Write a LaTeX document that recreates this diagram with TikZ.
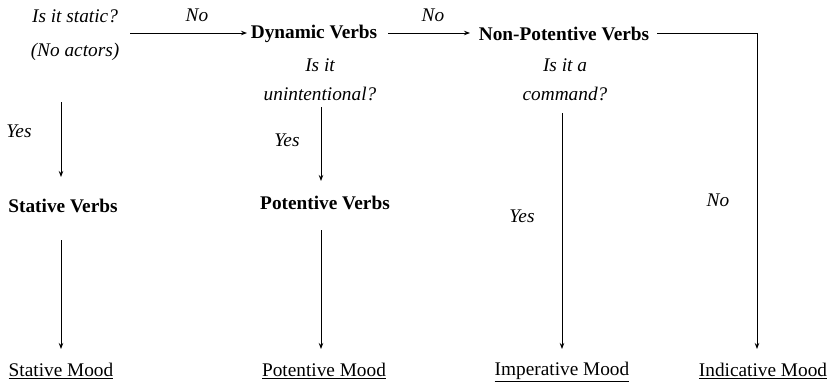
\documentclass[tikz,border=0pt]{standalone}
\usepackage{fontspec}
\setmainfont{Liberation Serif}
\usetikzlibrary{arrows.meta}
\begin{document}
\begin{tikzpicture}[x=1pt,y=-1pt,
  txt/.style={inner sep=0pt,font=\fontsize{19.3}{22}\selectfont,anchor=center},
  q/.style={txt,font=\fontsize{19.3}{22}\selectfont\itshape},
  hd/.style={txt,font=\fontsize{19.3}{22}\selectfont\bfseries},
  conn/.style={draw=black,line width=0.9pt},
  arr/.style={conn,-{Stealth[length=6pt,width=4.5pt]}}]
\useasboundingbox (0,0) rectangle (828,384);
% column 1
\node[q] (q1a) at (75,16) {Is it static?};
\node[q] (q1b) at (75,52) {(No actors)};
\node[q] (no1) at (197,15) {No};
\node[q] (yes1) at (19,131) {Yes};
\node[hd] (stv) at (63,206) {Stative Verbs};
\node[txt] (stm) at (61,371) {\underline{Stative Mood}};
% column 2
\node[hd] (dyn) at (314,34) {Dynamic Verbs};
\node[q] (q2a) at (320,65) {Is it};
\node[q] (q2b) at (320,94) {unintentional?};
\node[q] (yes2) at (287,140) {Yes};
\node[hd] (ptv) at (325,203) {Potentive Verbs};
\node[txt] (ptm) at (324,371) {\underline{Potentive Mood}};
% column 3
\node[q] (no2) at (433,15) {No};
\node[hd] (npv) at (564,34) {Non-Potentive Verbs};
\node[q] (q3a) at (565,65) {Is it a};
\node[q] (q3b) at (565,94) {command?};
\node[q] (yes3) at (522,216) {Yes};
\node[txt] (imm) at (562,372) {\underline{Imperative Mood}};
% column 4
\node[q] (no3) at (718,200) {No};
\node[txt] (inm) at (763,371) {\underline{Indicative Mood}};
% connector points
\coordinate (s1) at (130,33);
\coordinate (e1) at (247,33);
\coordinate (s2) at (388,33);
\coordinate (e2) at (470,33);
\coordinate (c1a) at (61,102);
\coordinate (c1b) at (61,177);
\coordinate (c1c) at (61,240);
\coordinate (c1d) at (61,349);
\coordinate (c2a) at (321,107);
\coordinate (c2b) at (321,181);
\coordinate (c2c) at (321,230);
\coordinate (c2d) at (321,349);
\coordinate (c3a) at (562,113);
\coordinate (c3b) at (562,349);
\coordinate (c4a) at (657,33);
\coordinate (c4b) at (757,33);
\coordinate (c4c) at (757,349);
% connectors
\draw[arr] (s1) -- (e1);
\draw[arr] (s2) -- (e2);
\draw[arr] (c1a) -- (c1b);
\draw[arr] (c1c) -- (c1d);
\draw[arr] (c2a) -- (c2b);
\draw[arr] (c2c) -- (c2d);
\draw[arr] (c3a) -- (c3b);
\draw[arr] (c4a) -- (c4b) -- (c4c);
\end{tikzpicture}
\end{document}
